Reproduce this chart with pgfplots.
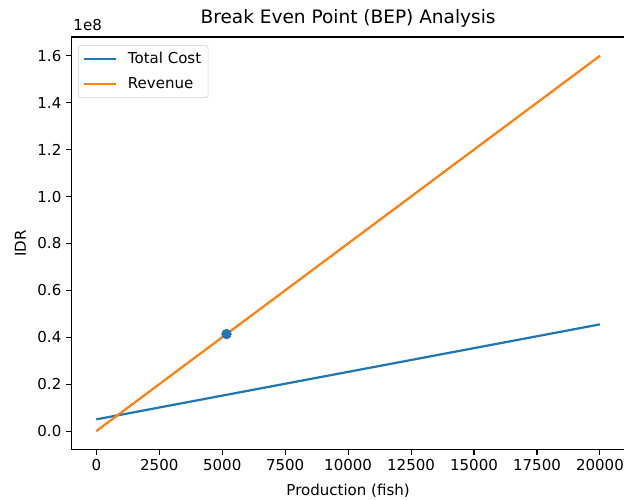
\documentclass[border=0pt]{standalone}
\usepackage{fontspec}
\setmainfont{DejaVu Sans}
\usepackage{pgfplots}
\pgfplotsset{compat=1.18}
\definecolor{C0}{HTML}{1F77B4}
\definecolor{C1}{HTML}{FF7F0E}
\begin{document}
\begin{tikzpicture}
\begin{axis}[
  name=ax,
  scale only axis,
  width=398pt, height=296.6pt,
  xmin=-1000, xmax=21000,
  ymin=-0.08, ymax=1.68,
  xtick={0,2500,...,20000},
  ytick={0,0.2,...,1.6},
  /pgf/number format/assume math mode=true,
  xticklabel style={/pgf/number format/.cd, fixed, 1000 sep={}},
  yticklabel style={/pgf/number format/.cd, fixed, fixed zerofill, precision=1},
  scaled x ticks=false, scaled y ticks=false,
  tick align=outside,
  xtick pos=left, ytick pos=left,
  major tick length=3.5pt,
  tick style={black, line width=0.8pt},
  axis line style={line width=0.8pt},
  every tick label/.append style={font=\fontsize{10.8}{13}\selectfont},
  title={Break Even Point (BEP) Analysis},
  every axis title/.style={at={(rel axis cs:0.5,1)}, yshift=13.5pt, anchor=center, font=\fontsize{13.3}{16}\selectfont},
  xlabel={Production (fish)},
  ylabel={IDR},
  every axis x label/.style={at={(rel axis cs:0.5,0)}, yshift=-29.5pt, anchor=center, font=\fontsize{10.8}{13}\selectfont},
  every axis y label/.style={at={(rel axis cs:0,0.5)}, xshift=-36.5pt, rotate=90, anchor=center, font=\fontsize{10.8}{13}\selectfont},
  legend cell align=left,
  legend style={font=\fontsize{10.8}{13}\selectfont, draw=black!20, rounded corners=2pt,
    inner xsep=3pt, inner ysep=3pt, row sep=4.5pt,
    at={(rel axis cs:0,1)}, xshift=5pt, yshift=-5.8pt, anchor=north west},
  legend image code/.code={\draw[#1] (0pt,0pt) -- (23pt,0pt); \path (29pt,0pt);},
  legend image post style={line width=1.6pt},
  clip=false,
]
\addplot[C0, line width=1.6pt] coordinates {(0,0.05) (20000,0.455)};
\addlegendentry{Total Cost}
\addplot[C1, line width=1.6pt] coordinates {(0,0) (20000,1.6)};
\addlegendentry{Revenue}
\addplot[only marks, mark=*, mark size=3.5pt, C0, forget plot] coordinates {(5170,0.4136)};
\node[anchor=south west, font=\fontsize{10.8}{13}\selectfont, inner sep=0pt] at (rel axis cs:0,1) [xshift=1.5pt, yshift=4pt] {1e8};
\end{axis}
\pgfresetboundingbox
\path[use as bounding box] ([shift={(-51.1pt,-36pt)}]ax.south west) rectangle ([shift={(-0.8pt,26.6pt)}]ax.north east);
\end{tikzpicture}
\end{document}
